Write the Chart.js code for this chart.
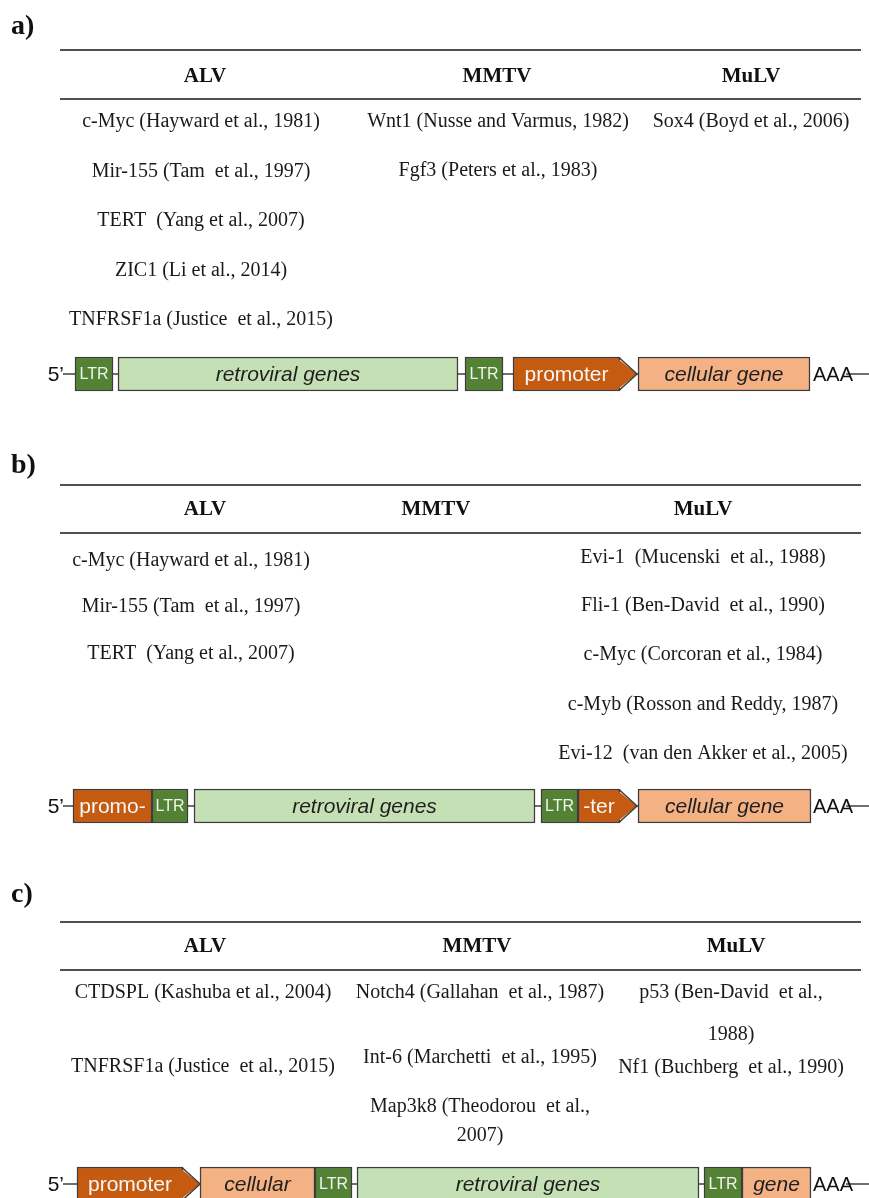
<!DOCTYPE html>
<html>
<head>
<meta charset="utf-8">
<script src="https://cdn.jsdelivr.net/npm/chart.js@4.4.1/dist/chart.umd.min.js"></script>
<style>
  html, body { margin: 0; padding: 0; background: #fff; }
  #wrap { width: 869px; height: 1198px; }
</style>
</head>
<body>
<div id="wrap"><canvas id="ctx" width="869" height="1198"></canvas></div>
<script>
var panelLabels = ['a)', 'b)', 'c)'];
var virusNames = ['ALV', 'MMTV', 'MuLV'];

// insertion targets, one list per panel and virus
var alvA = ['c-Myc (Hayward et al., 1981)', 'Mir-155 (Tam  et al., 1997)', 'TERT  (Yang et al., 2007)', 'ZIC1 (Li et al., 2014)', 'TNFRSF1a (Justice  et al., 2015)'];
var mmtvA = ['Wnt1 (Nusse and Varmus, 1982)', 'Fgf3 (Peters et al., 1983)'];
var mulvA = ['Sox4 (Boyd et al., 2006)'];

var alvB = ['c-Myc (Hayward et al., 1981)', 'Mir-155 (Tam  et al., 1997)', 'TERT  (Yang et al., 2007)'];
var mmtvB = [];
var mulvB = ['Evi-1  (Mucenski  et al., 1988)', 'Fli-1 (Ben-David  et al., 1990)', 'c-Myc (Corcoran et al., 1984)', 'c-Myb (Rosson and Reddy, 1987)', 'Evi-12  (van den Akker et al., 2005)'];

var alvC = ['CTDSPL (Kashuba et al., 2004)', 'TNFRSF1a (Justice  et al., 2015)'];
var mmtvC = ['Notch4 (Gallahan  et al., 1987)', 'Int-6 (Marchetti  et al., 1995)', 'Map3k8 (Theodorou  et al.,\n2007)'];
var mulvC = ['p53 (Ben-David  et al.,\n1988)', 'Nf1 (Buchberg  et al., 1990)'];

// provirus maps: [kind, text, start, end] along the map axis
var mapA = [
  ['ltr', 'LTR', 75, 113],
  ['retro', 'retroviral genes', 118, 458],
  ['ltr', 'LTR', 465, 503],
  ['promEnd', 'promoter', 513, 620],
  ['cell', 'cellular gene', 638, 810]
];
var mapB = [
  ['prom', 'promo-', 73, 152],
  ['ltr', 'LTR', 152, 188],
  ['retro', 'retroviral genes', 194, 535],
  ['ltr', 'LTR', 541, 578],
  ['promEnd', '-ter', 578, 620],
  ['cell', 'cellular gene', 638, 811]
];
var mapC = [
  ['promEnd', 'promoter', 77, 183],
  ['cell', 'cellular', 200, 315],
  ['ltr', 'LTR', 315, 352],
  ['retro', 'retroviral genes', 357, 699],
  ['ltr', 'LTR', 704, 742],
  ['cell', 'gene', 742, 811]
];

var tableData = [[alvA, mmtvA, mulvA], [alvB, mmtvB, mulvB], [alvC, mmtvC, mulvC]];
var maps = [mapA, mapB, mapC];

// layout (page units)
var mapY = [374, 806, 1184];
var tableLayout = [
  { labelY: 34, ruleTop: 50, headY: 75, ruleMid: 99, headX: [205, 497, 751],
    cols: [{ x: 201, rows: [120, 169.5, 219, 268.5, 318] }, { x: 498, rows: [120, 169] }, { x: 751, rows: [120] }] },
  { labelY: 473, ruleTop: 485, headY: 508, ruleMid: 533, headX: [205, 436, 703],
    cols: [{ x: 191, rows: [559, 605, 652] }, { x: 436, rows: [] }, { x: 703, rows: [556, 604, 653, 703, 752] }] },
  { labelY: 902, ruleTop: 922, headY: 945, ruleMid: 970, headX: [205, 477, 736],
    cols: [{ x: 203, rows: [991, 1065] }, { x: 480, rows: [991, 1056, 1105], gap: 29 }, { x: 731, rows: [991, 1066], gap: 42 }] }
];
var textShift = 2;

var kinds = ['ltr', 'retro', 'prom', 'promEnd', 'cell'];
var kindFill = { ltr: '#548235', retro: '#c5e0b4', prom: '#c55a11', promEnd: '#c55a11', cell: '#f4b183' };
var kindText = { ltr: '#f2f2f2', retro: '#1f1f1f', prom: '#f7f7f7', promEnd: '#f7f7f7', cell: '#1f1f1f' };
var kindFont = {
  ltr: '16px "Liberation Sans", Arial, sans-serif',
  retro: 'italic 21px "Liberation Sans", Arial, sans-serif',
  prom: '21px "Liberation Sans", Arial, sans-serif',
  promEnd: '21px "Liberation Sans", Arial, sans-serif',
  cell: 'italic 21px "Liberation Sans", Arial, sans-serif'
};
var tipLen = 17;
var serif = '"Liberation Serif", "Times New Roman", serif';
var sans = '"Liberation Sans", Arial, sans-serif';

var datasets = kinds.map(function (k) {
  var pts = [];
  maps.forEach(function (m, p) {
    m.forEach(function (s) {
      if (s[0] == k) pts.push({ x: [s[2], s[3]], y: mapY[p], txt: s[1] });
    });
  });
  return {
    label: k,
    data: pts,
    backgroundColor: kindFill[k],
    borderColor: '#3d3d3d',
    borderWidth: 1.5,
    borderSkipped: false
  };
});

var diagram = {
  id: 'diagram',
  beforeDatasetsDraw: function (chart) {
    var c = chart.ctx;
    var sx = chart.scales.x, sy = chart.scales.y;
    c.save();

    // tables
    tableLayout.forEach(function (t, p) {
      c.fillStyle = '#111';
      c.textAlign = 'left';
      c.textBaseline = 'alphabetic';
      c.font = 'bold 28px ' + serif;
      c.fillText(panelLabels[p], sx.getPixelForValue(11), sy.getPixelForValue(t.labelY));

      c.strokeStyle = '#505050';
      c.lineWidth = 1.8;
      [t.ruleTop, t.ruleMid].forEach(function (ry) {
        c.beginPath();
        c.moveTo(sx.getPixelForValue(60), sy.getPixelForValue(ry));
        c.lineTo(sx.getPixelForValue(861), sy.getPixelForValue(ry));
        c.stroke();
      });

      c.textAlign = 'center';
      c.textBaseline = 'middle';
      c.font = 'bold 21px ' + serif;
      virusNames.forEach(function (v, i) {
        c.fillText(v, sx.getPixelForValue(t.headX[i]), sy.getPixelForValue(t.headY + textShift));
      });

      c.font = '20px ' + serif;
      c.fillStyle = '#1a1a1a';
      t.cols.forEach(function (col, ci) {
        tableData[p][ci].forEach(function (entry, i) {
          entry.split('\n').forEach(function (line, j) {
            c.fillText(line, sx.getPixelForValue(col.x), sy.getPixelForValue(col.rows[i] + j * (col.gap || 0) + textShift));
          });
        });
      });
    });

    // backbone, 5' end and poly-A tail
    mapY.forEach(function (my, p) {
      var y = sy.getPixelForValue(my);
      c.strokeStyle = '#404040';
      c.lineWidth = 1.5;
      c.beginPath();
      c.moveTo(sx.getPixelForValue(63), y);
      c.lineTo(sx.getPixelForValue(808), y);
      c.moveTo(sx.getPixelForValue(846), y);
      c.lineTo(sx.getPixelForValue(869), y);
      c.stroke();

      c.fillStyle = '#111';
      c.textBaseline = 'middle';
      c.font = '21px ' + sans;
      c.textAlign = 'right';
      c.fillText('5\u2019', sx.getPixelForValue(64), y + 1);
      c.font = '20px ' + sans;
      c.textAlign = 'left';
      c.fillText('AAA', sx.getPixelForValue(813), y + 1);
    });
    c.restore();
  },
  afterDatasetsDraw: function (chart) {
    var c = chart.ctx;
    c.save();
    chart.data.datasets.forEach(function (ds, di) {
      var meta = chart.getDatasetMeta(di);
      meta.data.forEach(function (el, i) {
        var pr = el.getProps(['x', 'y', 'base', 'height']);
        var top = pr.y - pr.height / 2, bot = pr.y + pr.height / 2;
        var end = Math.max(pr.x, pr.base), start = Math.min(pr.x, pr.base);
        if (ds.label == 'promEnd') {
          c.fillStyle = ds.backgroundColor;
          c.beginPath();
          c.moveTo(end - 2.5, top + 1.5);
          c.lineTo(end + tipLen, pr.y);
          c.lineTo(end - 2.5, bot - 1.5);
          c.closePath();
          c.fill();
          c.strokeStyle = ds.borderColor;
          c.lineWidth = 1.5;
          c.beginPath();
          c.moveTo(end - 0.75, top + 0.75);
          c.lineTo(end + tipLen, pr.y);
          c.lineTo(end - 0.75, bot - 0.75);
          c.stroke();
        }
        c.fillStyle = kindText[ds.label];
        c.font = kindFont[ds.label];
        c.textAlign = 'center';
        c.textBaseline = 'middle';
        c.fillText(ds.data[i].txt, (start + end) / 2, pr.y + 1);
      });
    });
    c.restore();
  }
};

var chart = new Chart(document.getElementById('ctx'), {
  type: 'bar',
  data: { datasets: datasets },
  options: {
    indexAxis: 'y',
    responsive: false,
    animation: false,
    devicePixelRatio: 1,
    events: [],
    layout: { padding: 0 },
    grouped: false,
    barThickness: 34,
    scales: {
      x: { type: 'linear', min: 0, max: 869, offset: false, display: false },
      y: { type: 'linear', min: 0, max: 1198, reverse: true, offset: false, display: false }
    },
    plugins: {
      legend: { display: false },
      tooltip: { enabled: false }
    }
  },
  plugins: [diagram]
});
</script>
</body>
</html>
